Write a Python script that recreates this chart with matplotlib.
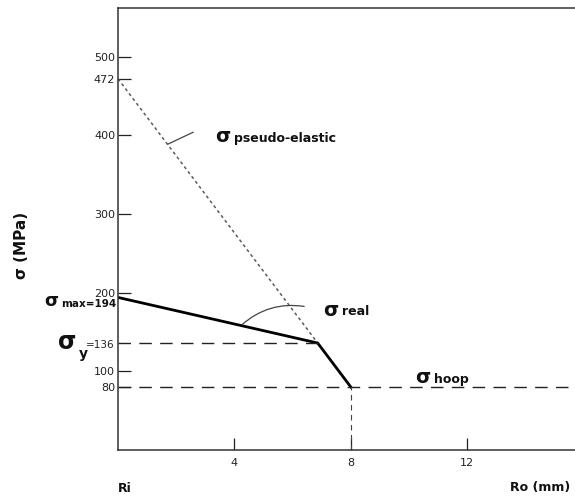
"""Stress distribution across a thick-walled tube wall (Ri -> Ro)."""
import numpy as np
import matplotlib
matplotlib.use("Agg")
import matplotlib.pyplot as plt

# radius (mm) / stress (MPa)
real_r = [0.0, 6.86, 8.0]
real_s = [194, 136, 80]
pseudo_r = [0.0, 6.86]
pseudo_s = [472, 136]
sigma_y = 136
sigma_hoop = 80
r_outer = 8.0

ytick_vals = [500, 472, 400, 300, 200, 100, 80]
ytick_labels = ["500", "472", "400", "300", "200", "100", "80"]
xtick_vals = [4, 8, 12]
xtick_labels = ["4", "8", "12"]

fig = plt.figure(figsize=(5.75, 5.01), dpi=100)
ax = fig.add_axes([118 / 575, 51 / 501, 1 - 118 / 575, 442 / 501])
ax.set_xlim(0, 15.7)
ax.set_ylim(0, 562)

ax.spines["right"].set_visible(False)
for s in ["left", "bottom", "top"]:
    ax.spines[s].set_linewidth(1.1)
    ax.spines[s].set_color("#333333")

# curves
ax.plot(pseudo_r, pseudo_s, color="#5a5a5a", lw=1.1, ls=(0, (2, 2)))
ax.plot(real_r, real_s, color="black", lw=2.0, solid_joinstyle="miter")
ax.plot([0, real_r[1]], [sigma_y, sigma_y], color="#222222", lw=1.0,
        ls=(0, (9, 6)))
ax.plot([0, 15.7], [sigma_hoop, sigma_hoop], color="#222222", lw=1.0,
        ls=(0, (9, 6)))
ax.plot([r_outer, r_outer], [0, sigma_hoop], color="#444444", lw=0.8,
        ls=(0, (5, 4)))

# ticks
ax.set_yticks(ytick_vals)
ax.set_yticklabels(ytick_labels)
ax.set_xticks(xtick_vals)
ax.set_xticklabels(xtick_labels)
ax.tick_params(axis="both", direction="in", length=9, width=0.9,
               labelsize=8, colors="#222222", pad=2)
ax.tick_params(axis="x", pad=6)

# annotations
bold = dict(fontweight="bold", color="#111111")
ax.text(3.35, 398, "σ", fontsize=14, va="center", ha="left", **bold)
ax.text(4.0, 396, "pseudo-elastic", fontsize=9, va="center", ha="left", **bold)
ax.plot([1.72, 2.58], [389, 404], color="#444444", lw=0.9)

ax.text(7.05, 178, "σ", fontsize=14, va="center", ha="left", **bold)
ax.text(7.7, 176, "real", fontsize=9, va="center", ha="left", **bold)
ax.annotate("", xy=(4.19, 157), xytext=(6.49, 182),
            arrowprops=dict(arrowstyle="-", color="#444444", lw=0.9,
                            connectionstyle="arc3,rad=0.25"))

ax.text(10.2, 92, "σ", fontsize=14, va="center", ha="left", **bold)
ax.text(10.85, 90, "hoop", fontsize=9, va="center", ha="left", **bold)

# left-side labels
fig.text(44 / 575, 1 - 301 / 501, "σ", fontsize=13, va="center", ha="left", **bold)
fig.text(116 / 575, 1 - 304 / 501, "max=194", fontsize=7.5, va="center",
         ha="right", **bold)
fig.text(58 / 575, 1 - 342 / 501, "σ", fontsize=17, va="center", ha="left", **bold)
fig.text(79 / 575, 1 - 354 / 501, "y", fontsize=10, va="center", ha="left", **bold)
fig.text(115 / 575, 1 - 345 / 501, "=136", fontsize=7.5, va="center",
         ha="right", color="#222222")
fig.text(22 / 575, 1 - 245 / 501, "σ (MPa)", fontsize=11, rotation=90,
         va="center", ha="center", **bold)

fig.text(125 / 575, 1 - 488 / 501, "Ri", fontsize=9, va="center", ha="center", **bold)
fig.text(570 / 575, 1 - 488 / 501, "Ro (mm)", fontsize=9, va="center",
         ha="right", **bold)

fig.savefig("out.png", dpi=100)
